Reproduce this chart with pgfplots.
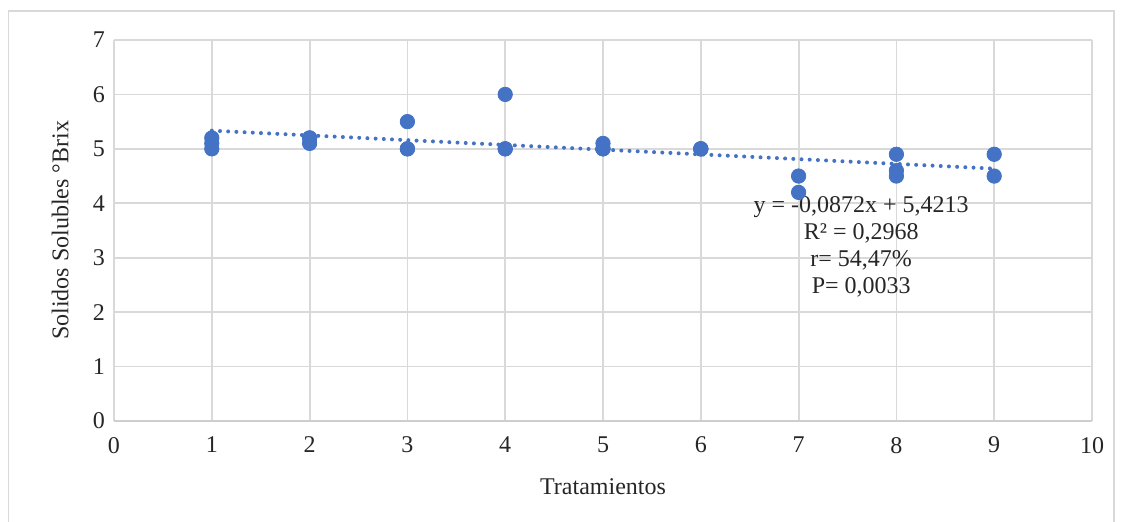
\documentclass[border=0pt]{standalone}
\usepackage{pgfplots}
\pgfplotsset{compat=1.18}
\usepackage{fontspec}
\setmainfont{Liberation Serif}
\definecolor{pblue}{HTML}{4472C4}
\definecolor{gridc}{HTML}{D9D9D9}
\definecolor{framec}{HTML}{D9D9D9}
\begin{document}
\begin{tikzpicture}[x=1pt,y=1pt]
\useasboundingbox (0,0) rectangle (560.5,261);
\draw[framec,line width=0.6pt] (4.2,-2) rectangle (557,255.5);
\begin{axis}[
  at={(57pt,50.5pt)}, anchor=south west,
  scale only axis, width=489pt, height=190.5pt,
  xmin=0, xmax=10, ymin=0, ymax=7,
  xtick={0,...,10}, ytick={0,...,7},
  grid=major, major grid style={gridc, line width=0.9pt},
  axis line style={draw=none},
  tick style={draw=none},
  /pgf/number format/assume math mode=true,
  ticklabel style={font=\fontsize{12}{14}\selectfont, text=black!85},
  xticklabel style={yshift=-4.5pt},
  yticklabel style={xshift=-1pt},
  xlabel={Tratamientos},
  ylabel={Solidos Solubles °Brix},
  label style={font=\fontsize{12}{14}\selectfont, text=black!85},
  xlabel style={at={(axis description cs:0.5,-0.1733)}, anchor=center},
  ylabel style={at={(axis description cs:-0.055,0.5)}, anchor=center},
  clip=false,
]
\draw[gridc!80!black!60, line width=0.9pt] (axis cs:0,0) -- (axis cs:10,0);
\addplot[only marks, mark=*, mark size=3.6pt, mark options={fill=pblue, draw=pblue}] coordinates {
(1,5.0) (1,5.1) (1,5.2)
(2,5.1) (2,5.2) (2,5.2)
(3,5.5) (3,5.0) (3,5.0)
(4,6.0) (4,5.0) (4,5.0)
(5,5.0) (5,5.1) (5,5.0)
(6,5.0) (6,5.0) (6,5.0)
(7,4.5) (7,4.2)
(8,4.9) (8,4.6) (8,4.5)
(9,4.9) (9,4.5)
};
\addplot[pblue, line width=2pt, line cap=round, dash pattern=on 0pt off 4.1pt] coordinates {
(1,5.3341) (9,4.6365)
};
\node[align=center, font=\fontsize{12}{13.5}\selectfont, text=black!85] at (axis cs:7.64,3.2)
  {y = -0,0872x + 5,4213\\R² = 0,2968\\r= 54,47\%\\P= 0,0033};
\end{axis}
\end{tikzpicture}
\end{document}
